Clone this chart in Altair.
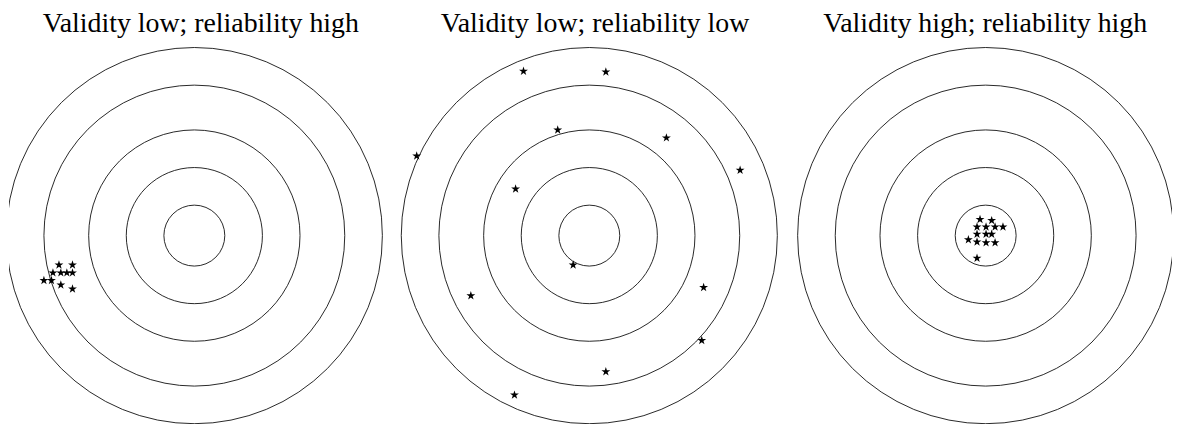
import math
import altair as alt
import pandas as pd

# ---------------- data ----------------
TITLES = [
    "Validity low; reliability high",
    "Validity low; reliability low",
    "Validity high; reliability high",
]

# radii of the target rings (outer ring = 5 units)
RING_RADII = [0.81, 1.81, 2.81, 4.0, 5.0]

# shot positions relative to the bull's-eye, same units
P1_X = [-3.60, -3.24, -3.76, -3.55, -3.39, -3.24, -4.00, -3.80, -3.55, -3.24]
P1_Y = [-0.78, -0.78, -0.99, -0.99, -0.99, -0.99, -1.19, -1.19, -1.31, -1.42]

P2_X = [-1.75, 0.44, -0.84, 2.05, -4.59, 4.01, -1.96, -0.43, -3.15, 3.04, 2.99, 0.44, -1.99]
P2_Y = [4.37, 4.35, 2.81, 2.60, 2.12, 1.74, 1.24, -0.78, -1.60, -1.38, -2.79, -3.62, -4.24]

P3_X = [-0.15, 0.16, -0.23, 0.01, 0.25, 0.46, -0.23, 0.01, 0.16, -0.46, -0.23, 0.01, 0.25, -0.23]
P3_Y = [0.43, 0.40, 0.23, 0.23, 0.23, 0.23, 0.04, 0.04, 0.04, -0.11, -0.17, -0.19, -0.19, -0.60]

SHOTS = [(P1_X, P1_Y), (P2_X, P2_Y), (P3_X, P3_Y)]

# ---------------- layout / style ----------------
PX_PER_UNIT = 37.8
PANEL_W = [384, 395, 386]
CENTER_PX = [186.3, 197.3, 198.7]   # bull's-eye position inside each panel
PANEL_H = 386
CENTER_PY = 196.7
TITLE_DX = [0.8, 5.5, 5.2]
OUTER = max(RING_RADII)
RING_PX = OUTER * PX_PER_UNIT

# five-pointed star glyph as an SVG path in the unit square
pts = []
for k in range(10):
    rad = 1.0 if k % 2 == 0 else 0.382
    ang = -math.pi / 2 + k * math.pi / 5
    pts.append(f"{rad * math.cos(ang):.4f},{rad * math.sin(ang):.4f}")
STAR = "M" + "L".join(pts) + "Z"


def panel(i):
    w = PANEL_W[i]
    cx = CENTER_PX[i]
    xdom = [-cx / PX_PER_UNIT, (w - cx) / PX_PER_UNIT]
    ydom = [-(PANEL_H - CENTER_PY) / PX_PER_UNIT, CENTER_PY / PX_PER_UNIT]
    xs = alt.Scale(domain=xdom, nice=False, zero=False)
    ys = alt.Scale(domain=ydom, nice=False, zero=False)

    rings = pd.DataFrame({"x": [0.0] * len(RING_RADII), "y": [0.0] * len(RING_RADII), "r": RING_RADII})
    sx, sy = SHOTS[i]
    shots = pd.DataFrame({"x": sx, "y": sy})

    ring_layer = alt.Chart(rings).mark_point(
        shape="circle", filled=False, stroke="#111111", strokeWidth=0.9, opacity=1, clip=True
    ).encode(
        x=alt.X("x:Q", scale=xs, axis=None),
        y=alt.Y("y:Q", scale=ys, axis=None),
        size=alt.Size(
            "r:Q",
            scale=alt.Scale(type="pow", exponent=2, domain=[0, OUTER], range=[0, (2 * RING_PX) ** 2]),
            legend=None,
        ),
    )

    shot_layer = alt.Chart(shots).mark_point(
        shape=STAR, filled=True, fill="#000000", strokeWidth=0, opacity=1, size=88, clip=True
    ).encode(
        x=alt.X("x:Q", scale=xs, axis=None),
        y=alt.Y("y:Q", scale=ys, axis=None),
    )

    return alt.layer(ring_layer, shot_layer).properties(
        width=w,
        height=PANEL_H,
        title=alt.TitleParams(
            TITLES[i],
            font="Liberation Serif",
            fontSize=28,
            fontWeight="normal",
            color="#000000",
            anchor="middle",
            frame="group",
            baseline="alphabetic",
            offset=-20,
            dx=TITLE_DX[i],
        ),
    )


chart = alt.hconcat(panel(0), panel(1), panel(2), spacing=0).properties(
    padding=0, background="#ffffff"
).configure_view(stroke="transparent")

chart.save("out.html", embed_options={"renderer": "svg", "actions": False})
